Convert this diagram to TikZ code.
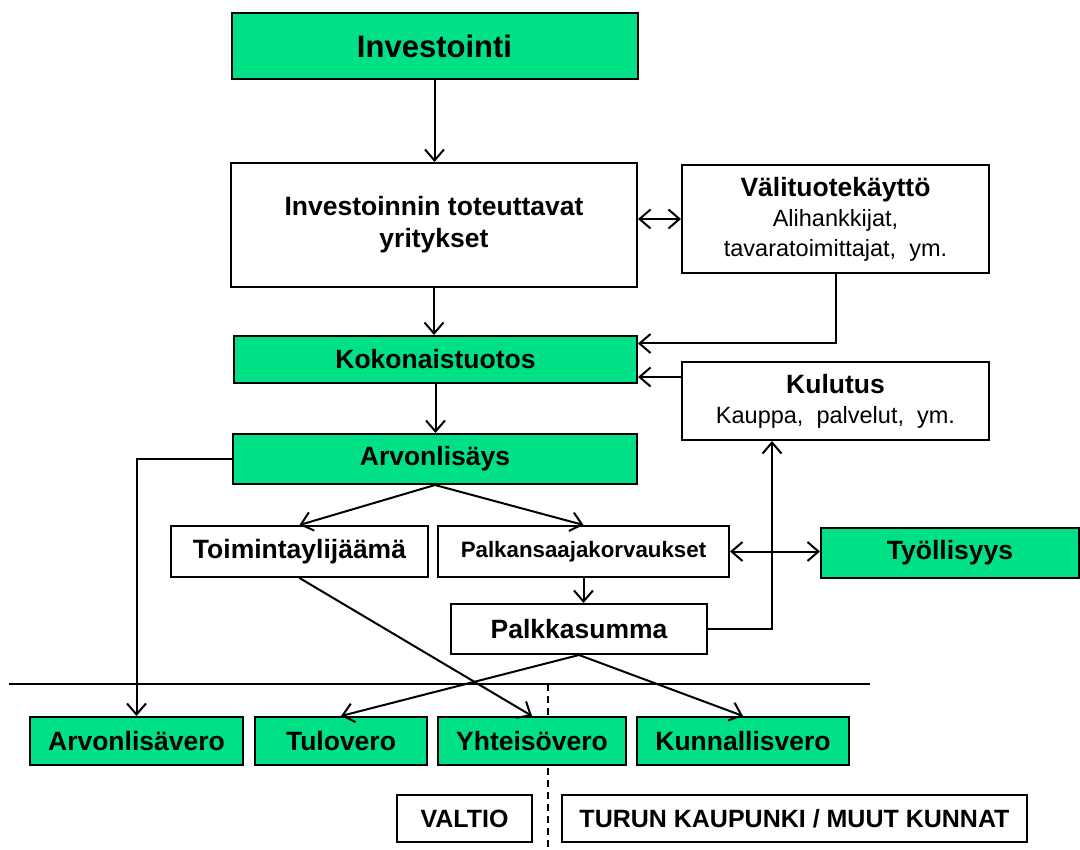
\documentclass[tikz,border=0pt]{standalone}
\usepackage{fontspec}
\setmainfont{Liberation Sans}
\usetikzlibrary{arrows.meta,calc}
\definecolor{vgreen}{RGB}{0,224,135}
\newcommand\txtTitle{\fontsize{31}{36}\selectfont\bfseries}
\newcommand\txtBold{\fontsize{26.5}{32}\selectfont\bfseries}
\newcommand\txtBoldB{\fontsize{25}{30}\selectfont\bfseries}
\newcommand\txtReg{\fontsize{23.5}{30}\selectfont}
\newcommand\txtSmall{\fontsize{22.3}{26}\selectfont\bfseries}
\tikzset{
  box/.style={draw, line width=2pt, inner sep=0pt, align=center, fill=white},
  gbox/.style={box, fill=vgreen},
  conn/.style={line width=2pt},
  >={Straight Barb[length=11pt,width=19pt,line width=2pt]}
}
\begin{document}
\begin{tikzpicture}[x=1pt,y=-1pt]
\useasboundingbox (0,0) rectangle (1080,850);
% separator lines
\coordinate (hl1) at (9,684);
\coordinate (hl2) at (870,684);
\coordinate (dl1) at (548,684);
\coordinate (dl2) at (548,850);
\draw[line width=2pt] (hl1) -- (hl2);
\draw[line width=2pt, dash pattern=on 7pt off 5pt] (dl1) -- (dl2);
% nodes
\node[gbox, minimum width=406pt, minimum height=66pt, font=\txtTitle] (inv) at (434.5,46) {Investointi};
\node[box, minimum width=406pt, minimum height=124pt, font=\txtBold] (invtot) at (434,225) {Investoinnin toteuttavat\\yritykset};
\node[box, minimum width=307pt, minimum height=108pt, font=\txtReg] (vali) at (835.5,219) {{\txtBold Välituotekäyttö}\\Alihankkijat,\\tavaratoimittajat,\ \ ym.};
\node[gbox, minimum width=403pt, minimum height=47pt, font=\txtBold] (koko) at (435.5,359.5) {Kokonaistuotos};
\node[box, minimum width=307pt, minimum height=78pt, font=\txtReg] (kul) at (835.5,401) {{\txtBold Kulutus}\\Kauppa,\ \ palvelut,\ \ ym.};
\node[gbox, minimum width=404pt, minimum height=50pt, font=\txtBold] (arvon) at (435,459) {Arvonlisäys};
\node[box, minimum width=257pt, minimum height=51pt, font=\txtBold] (toim) at (299.5,551.5) {Toimintaylijäämä};
\node[box, minimum width=291pt, minimum height=51pt, font=\txtSmall] (palk) at (583.5,551.5) {Palkansaajakorvaukset};
\node[gbox, minimum width=258pt, minimum height=50pt, font=\txtBold] (tyo) at (950,553) {Työllisyys};
\node[box, minimum width=256pt, minimum height=50pt, font=\txtBold] (psum) at (579,629) {Palkkasumma};
\node[gbox, minimum width=213pt, minimum height=48pt, font=\txtBold] (alv) at (136.5,741) {Arvonlisävero};
\node[gbox, minimum width=172pt, minimum height=48pt, font=\txtBold] (tul) at (341,741) {Tulovero};
\node[gbox, minimum width=188pt, minimum height=48pt, font=\txtBold] (yht) at (532,741) {Yhteisövero};
\node[gbox, minimum width=212pt, minimum height=48pt, font=\txtBold] (kun) at (743,741) {Kunnallisvero};
\node[box, minimum width=135pt, minimum height=47pt, font=\txtBoldB] (val) at (464.5,818.5) {VALTIO};
\node[box, minimum width=465pt, minimum height=47pt, font=\txtBoldB] (tur) at (794.5,818.5) {TURUN KAUPUNKI / MUUT KUNNAT};
% helper coordinates
\coordinate (kin1) at ([yshift=16pt]koko.east);
\coordinate (kin2) at ([yshift=-17.5pt]koko.east);
\coordinate (kulb) at ([xshift=-63.5pt]kul.south);
% connectors
\draw[conn,->] (inv.south) -- (inv.south |- invtot.north);
\draw[conn,<->] (vali.west -| invtot.east) -- (vali.west);
\draw[conn,->] (invtot.south) -- (invtot.south |- koko.north);
\draw[conn,->] (vali.south) |- (kin1);
\draw[conn,->] (kul.west |- kin2) -- (kin2);
\draw[conn,->] (koko.south) -- (koko.south |- arvon.north);
\draw[conn,->] (arvon.west) -| (alv.north);
\draw[conn,->] (arvon.south) -- (toim.north);
\draw[conn,->] (arvon.south) -- (palk.north);
\draw[conn,->] (palk.south) -- (palk.south |- psum.north);
\draw[conn,<->] (palk.east) -- (palk.east -| tyo.west);
\draw[conn,->] (psum.east) -| (kulb);
\draw[conn,->] (toim.south) -- (yht.north);
\draw[conn,->] (psum.south) -- (tul.north);
\draw[conn,->] (psum.south) -- (kun.north);
\end{tikzpicture}
\end{document}
